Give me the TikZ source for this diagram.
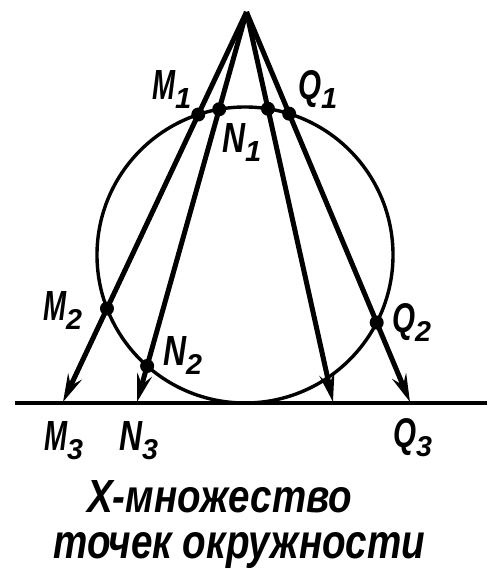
\documentclass[tikz,border=0pt]{standalone}
\usepackage{fontspec}
\setmainfont{Liberation Sans}
\usepackage{graphicx}
\usetikzlibrary{intersections,arrows.meta}
\newcommand\mylbl[2]{\resizebox{23pt}{29pt}{\bfseries\itshape #1}\raisebox{-9pt}{\resizebox{!}{20pt}{\bfseries\itshape #2}}}
\begin{document}
\begin{tikzpicture}[x=1pt,y=-1pt,
  ray/.style={line width=5pt,-{Stealth[length=28pt,width=15pt,inset=10pt]}},
  rim/.style={line width=3.4pt},
  base/.style={line width=4.6pt},
  dot/.style={circle,fill=black,inner sep=0pt,minimum size=14pt},
  lab/.style={anchor=base west,inner sep=0pt}]
\useasboundingbox (0,0) rectangle (501,569);
\coordinate (A) at (246.5,12);
\coordinate (L1) at (15,403);
\coordinate (L2) at (487,403);
\coordinate (M3) at (63,402);
\coordinate (N3) at (137,402);
\coordinate (P3) at (333,402);
\coordinate (Q3) at (410,402);
\coordinate (O) at (245,255);
\draw[rim,name path=circ] (O) circle[radius=148pt];
\draw[base] (L1) -- (L2);
\draw[ray,name path=m] (A) -- (M3);
\draw[ray,name path=n] (A) -- (N3);
\draw[ray,name path=p] (A) -- (P3);
\draw[ray,name path=q] (A) -- (Q3);
\path[name intersections={of=circ and m,sort by=m,by={M1,M2}}];
\path[name intersections={of=circ and n,sort by=n,by={N1,N2}}];
\path[name intersections={of=circ and p,sort by=p,by={P1,P2}}];
\path[name intersections={of=circ and q,sort by=q,by={Q1,Q2}}];
\node[dot] (dM1) at (M1) {};
\node[dot] (dM2) at (M2) {};
\node[dot] (dN1) at (N1) {};
\node[dot] (dN2) at (N2) {};
\node[dot] (dP1) at (P1) {};
\node[dot] (dQ1) at (Q1) {};
\node[dot] (dQ2) at (Q2) {};
\node[lab] (tM1) at (152,100) {\mylbl{M}{1}};
\node[lab] (tQ1) at (298,100) {\mylbl{Q}{1}};
\node[lab] (tN1) at (222,153) {\mylbl{N}{1}};
\node[lab] (tM2) at (43,320) {\mylbl{M}{2}};
\node[lab] (tN2) at (163,365) {\mylbl{N}{2}};
\node[lab] (tQ2) at (392,332) {\mylbl{Q}{2}};
\node[lab] (tM3) at (44,450) {\mylbl{M}{3}};
\node[lab] (tN3) at (119,450) {\mylbl{N}{3}};
\node[lab] (tQ3) at (393,447) {\mylbl{Q}{3}};
\node[lab] (cap1) at (87,512) {\resizebox{265pt}{32pt}{\bfseries\itshape Х-множество}};
\node[lab] (cap2) at (53,558) {\resizebox{372pt}{26pt}{\bfseries\itshape точек окружности}};
\end{tikzpicture}
\end{document}
